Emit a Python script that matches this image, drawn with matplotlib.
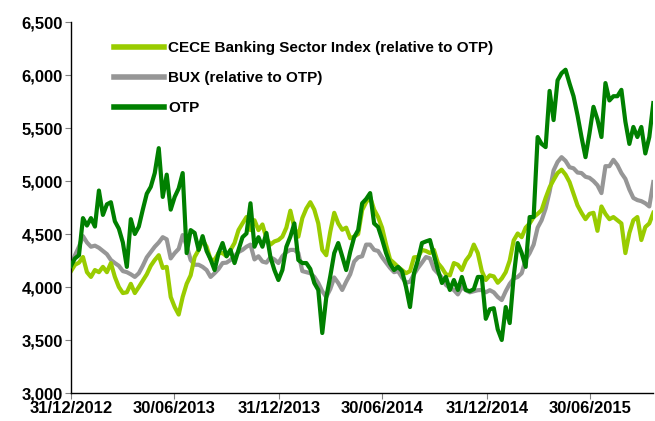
import pandas as pd
import matplotlib
matplotlib.use('Agg')
import matplotlib.pyplot as plt
import matplotlib.dates as mdates

# Weekly readings, starting 31/12/2012
start_date = '2012-12-31'

cece = [4150, 4210, 4230, 4283, 4140, 4095, 4160, 4140, 4190, 4140,
        4226, 4095, 4000, 3943, 3950, 4030, 3943, 4000, 4060, 4120,
        4200, 4255, 4300, 4180, 4190, 3906, 3811, 3740, 3906, 4030,
        4110, 4283, 4350, 4443, 4380, 4260, 4255, 4320, 4320, 4290,
        4350, 4415, 4537, 4600, 4660, 4537, 4630, 4537, 4590, 4460,
        4400, 4430, 4443, 4475, 4560, 4720, 4560, 4475, 4650, 4740,
        4800, 4730, 4600, 4350, 4300, 4520, 4700, 4600, 4540, 4560,
        4460, 4475, 4500, 4726, 4800, 4850, 4730, 4660, 4560, 4400,
        4260, 4226, 4190, 4160, 4130, 4150, 4280, 4283, 4350, 4340,
        4320, 4350, 4226, 4180, 4120, 4110, 4226, 4210, 4160, 4250,
        4300, 4400, 4320, 4150, 4066, 4110, 4100, 4040, 4080, 4140,
        4250, 4440, 4505, 4470, 4560, 4600, 4660, 4690, 4726, 4840,
        4940, 5010, 5075, 5107, 5060, 4990, 4880, 4770, 4700, 4640,
        4690, 4700, 4530, 4760, 4690, 4640, 4660, 4630, 4600, 4320,
        4510, 4630, 4660, 4443, 4566, 4600, 4700]

bux = [4200, 4300, 4380, 4480, 4420, 4380, 4390, 4370, 4340, 4310,
       4255, 4226, 4200, 4150, 4140, 4120, 4095, 4130, 4200, 4280,
       4330, 4380, 4420, 4470, 4450, 4270, 4320, 4360, 4490, 4390,
       4255, 4210, 4210, 4190, 4160, 4095, 4130, 4170, 4226, 4230,
       4255, 4290, 4330, 4350, 4380, 4400, 4260, 4290, 4240, 4230,
       4280, 4260, 4226, 4290, 4330, 4350, 4350, 4320, 4150, 4140,
       4130, 4095, 4038, 3960, 3906, 3980, 4090, 4038, 3972, 4050,
       4120, 4240, 4280, 4290, 4400, 4400, 4350, 4340, 4280, 4230,
       4180, 4140, 4150, 4090, 4040, 4050, 4120, 4180, 4230, 4283,
       4270, 4170, 4130, 4090, 4020, 3990, 3972, 3930, 4000, 3970,
       3950, 3960, 3970, 3972, 3950, 3970, 3950, 3906, 3877, 3960,
       4030, 4080, 4095, 4130, 4260, 4320, 4400, 4560, 4630, 4740,
       4900, 5100, 5180, 5225, 5190, 5130, 5120, 5080, 5075, 5040,
       5030, 5000, 4960, 4886, 5140, 5140, 5200, 5150, 5075, 5020,
       4920, 4840, 4820, 4810, 4790, 4760, 4990]

otp = [4200, 4270, 4300, 4650, 4580, 4650, 4570, 4910, 4680, 4780,
       4800, 4620, 4550, 4420, 4190, 4640, 4500, 4570, 4730, 4880,
       4945, 5075, 5310, 4850, 5060, 4730, 4850, 4930, 5075, 4320,
       4537, 4510, 4350, 4480, 4340, 4260, 4160, 4320, 4415, 4290,
       4350, 4226, 4350, 4470, 4505, 4790, 4380, 4470, 4380, 4510,
       4283, 4160, 4066, 4160, 4380, 4475, 4600, 4255, 4226, 4226,
       4170, 4038, 3972, 3566, 3900, 4100, 4320, 4415, 4290, 4160,
       4330, 4470, 4537, 4790, 4830, 4886, 4600, 4566, 4450, 4320,
       4220, 4160, 4190, 4150, 4000, 3811, 4130, 4255, 4415, 4430,
       4443, 4300, 4160, 4038, 4095, 3972, 4066, 3972, 4095, 3972,
       3960, 3980, 4095, 4095, 3700, 3790, 3800, 3600, 3500, 3811,
       3660, 4100, 4415, 4320, 4190, 4660, 4660, 5415, 5350, 5320,
       5850, 5575, 5950, 6017, 6050, 5920, 5800, 5620, 5415, 5225,
       5450, 5700, 5580, 5415, 5924, 5760, 5800, 5800, 5860, 5560,
       5350, 5510, 5415, 5510, 5260, 5415, 5735]

labels = ['CECE Banking Sector Index (relative to OTP)', 'BUX (relative to OTP)', 'OTP']
colors = ['#99CC00', '#969696', '#008000']
tick_dates = ['2012-12-31', '2013-06-30', '2013-12-31', '2014-06-30', '2014-12-31', '2015-06-30']

dates = pd.date_range(start_date, periods=len(otp), freq='7D')

plt.rcParams['font.family'] = ['Liberation Sans', 'DejaVu Sans']

fig = plt.figure(figsize=(6.55, 4.21), dpi=100)
ax = fig.add_axes([0.1084, 0.0665, 0.889, 0.8812])

ax.plot(dates, cece, color=colors[0], lw=3, label=labels[0], zorder=2)
ax.plot(dates, bux, color=colors[1], lw=3, label=labels[1], zorder=1)
ax.plot(dates, otp, color=colors[2], lw=3, label=labels[2], zorder=3)

ax.set_ylim(3000, 6500)
ax.set_yticks(range(3000, 6501, 500))
ax.set_yticklabels([f'{v:,}' for v in range(3000, 6501, 500)])
ax.set_xlim(dates[0], dates[-1])
ax.set_xticks(pd.to_datetime(tick_dates))
ax.xaxis.set_major_formatter(mdates.DateFormatter('%d/%m/%Y'))

for side in ['top', 'right']:
    ax.spines[side].set_visible(False)
ax.spines['left'].set_linewidth(1)
ax.spines['bottom'].set_linewidth(1)
ax.tick_params(axis='both', direction='out', length=4, width=0.8, colors='#808080', pad=2)
for lab in ax.get_xticklabels() + ax.get_yticklabels():
    lab.set_fontweight('bold')
    lab.set_fontsize(12)
    lab.set_color('black')

leg = ax.legend(loc='upper left', bbox_to_anchor=(0.05, 0.985), frameon=False,
                handlelength=3.3, handletextpad=0.25, labelspacing=1.05,
                prop={'weight': 'bold', 'size': 11})
for line in leg.get_lines():
    line.set_linewidth(4)

fig.savefig('out.png', dpi=100)
